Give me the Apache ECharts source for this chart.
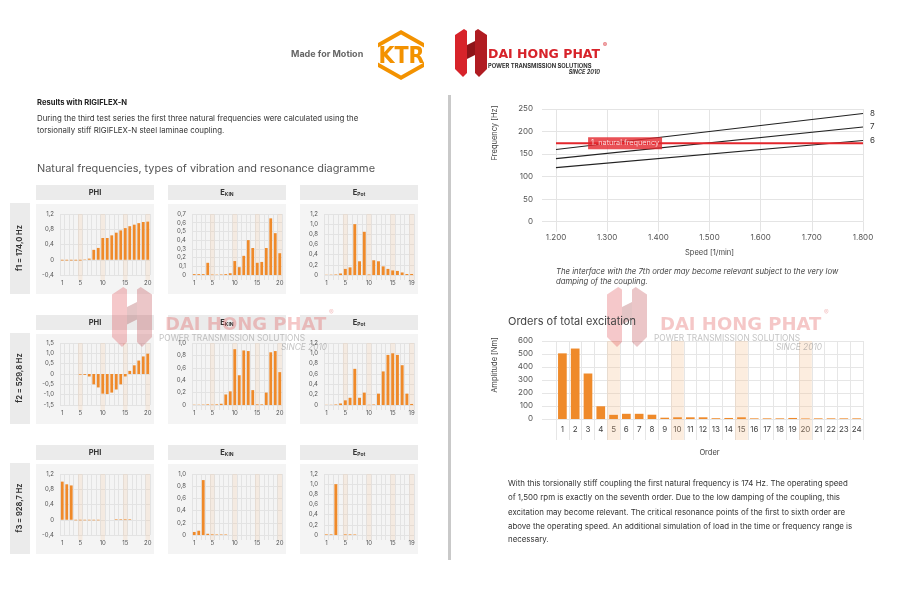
<!DOCTYPE html>
<html><head><meta charset="utf-8">
<style>html,body{margin:0;padding:0;background:#fff}#c{width:900px;height:603px}</style>
<script src="https://cdn.jsdelivr.net/npm/echarts@6.0.0/dist/echarts.min.js"></script>
</head><body><div id="c"></div>
<script>
// ---------- DATA ----------
const cats20 = ['1','2','3','4','5','6','7','8','9','10','11','12','13','14','15','16','17','18','19','20'];
const cats19 = ['1','2','3','4','5','6','7','8','9','10','11','12','13','14','15','16','17','18','19'];
const bands20 = ['5','10','15','20'];
const bands19 = ['5','10','15','19'];

const phiF1  = [-0.02,-0.02,-0.02,-0.02,-0.02,0.01,0.03,0.26,0.31,0.57,0.57,0.64,0.71,0.77,0.83,0.88,0.92,0.96,0.99,1.0];
const ekinF1 = [0.01,0.01,0.01,0.14,0.005,0.004,0.006,0.01,0.02,0.16,0.09,0.22,0.40,0.31,0.14,0.15,0.31,0.65,0.48,0.25];
const epotF1 = [0.004,0.006,0.01,0.03,0.12,0.15,1.0,0.27,0.85,0.01,0.29,0.27,0.17,0.12,0.09,0.08,0.05,0.02,0.02];

const phiF2  = [null,null,null,null,-0.03,-0.04,-0.12,-0.5,-0.65,-0.95,-0.97,-0.9,-0.75,-0.5,-0.12,0.15,0.42,0.65,0.85,0.98];
const ekinF2 = [0.004,0.004,0.006,0.01,0.006,0.01,0.02,0.17,0.22,0.90,0.48,0.88,0.87,0.24,0.01,0.01,0.20,0.85,0.87,0.53];
const epotF2 = [0.003,0.004,0.01,0.03,0.09,0.14,0.70,0.14,0.24,0.004,0.01,0.22,0.65,0.97,1.0,0.97,0.77,0.22,0.02];

const phiF3  = [1.0,0.93,0.9,-0.015,-0.015,-0.015,-0.015,-0.015,-0.015,null,null,null,0.015,0.015,0.015,0.015,null,null,null,null];
const ekinF3 = [0.05,0.07,0.90,0.02,0.01,0.008,0.008,0.008,null,null,null,null,null,null,null,null,null,null,null,null];
const epotF3 = [0.012,0.012,1.0,null,0.012,0.012,0.01,null,null,null,null,null,null,null,null,null,null,null,null];

const freqLabels = ['f1 = 174,0 Hz','f2 = 529,8 Hz','f3 = 928,7 Hz'];

const speeds = [1200, 1800];
const order6 = [120, 180];
const order7 = [140, 210];
const order8 = [160, 240];
const naturalFreq = [174, 174];
const naturalFreqLabel = '1. natural frequency';
const naturalFreqLabelSpeed = 1335;

const orderCats = ['1','2','3','4','5','6','7','8','9','10','11','12','13','14','15','16','17','18','19','20','21','22','23','24'];
const amplitude = [505,542,350,98,32,40,40,33,10,13,13,13,6,8,13,5,5,5,8,4,5,5,5,5];
const orderBands = ['5','10','15','20'];

// ---------- LAYOUT / STYLE ----------
const FONT = 'Inter, "Noto Sans", sans-serif';
const ORANGE = '#ef8a2a';
const BAND_SMALL = 'rgba(245, 190, 140, 0.18)';
const BAND = 'rgba(245, 190, 140, 0.28)';
const GRID_C = '#e3e3e3';

const grid = [], xAxis = [], yAxis = [], series = [], graphic = [];

function T(x, y, text, o) {
  o = o || {};
  const st = {text: text, fontSize: o.size || 8, fontFamily: o.family || FONT,
    fontWeight: o.weight || 'normal', fontStyle: o.italic ? 'italic' : 'normal',
    fill: o.color || '#333', align: o.align || 'left', textAlign: o.align || 'left',
    verticalAlign: o.va || 'middle', textVerticalAlign: o.va || 'middle'};
  if (o.rich) st.rich = o.rich;
  if (o.opacity != null) st.opacity = o.opacity;
  return {type: 'text', x: x, y: y, rotation: o.rot || 0, silent: true, z: o.z || 10, style: st};
}
function R(x, y, w, h, fill, z) {
  return {type: 'rect', shape: {x: x, y: y, width: w, height: h}, style: {fill: fill}, silent: true, z: z == null ? 0 : z};
}
function P(points, fill, z, opacity) {
  const st = {fill: fill};
  if (opacity != null) st.opacity = opacity;
  return {type: 'polygon', shape: {points: points}, style: st, silent: true, z: z == null ? 5 : z};
}
const fmtComma = v => (Math.abs(v) < 1e-9 ? '0' : v.toFixed(1).replace('.', ','));

function bandSeries(ax, data, yTop, yBot, extra, fill) {
  return {type: 'custom', xAxisIndex: ax, yAxisIndex: ax, silent: true, clip: false, z: 1,
    data: data.map(c => [c, yTop]),
    renderItem: function (params, api) {
      const c = api.value(0);
      const top = api.coord([c, yTop]);
      const bot = api.coord([c, yBot]);
      const w = api.size([1, 0])[0];
      return {type: 'rect', shape: {x: top[0] - w / 2, y: top[1], width: w, height: bot[1] - top[1] + extra},
        style: {fill: fill}};
    }};
}

// ---------- SMALL PANELS ----------
const colX = [36, 168, 300];
const rowTop = [185, 315, 445];
const plotTop = [214, 343, 474];
const plotBot = [275, 405, 535];

const panels = [
  [ {t:'PHI', cats:cats20, d:phiF1, min:-0.4, max:1.2, iv:0.4, b:bands20},
    {t:'KIN', cats:cats20, d:ekinF1, min:0, max:0.7, iv:0.1, b:bands20},
    {t:'Pot', cats:cats19, d:epotF1, min:0, max:1.2, iv:0.2, b:bands19} ],
  [ {t:'PHI', cats:cats20, d:phiF2, min:-1.5, max:1.5, iv:0.5, b:bands20},
    {t:'KIN', cats:cats20, d:ekinF2, min:0, max:1.0, iv:0.2, b:bands20},
    {t:'Pot', cats:cats19, d:epotF2, min:0, max:1.2, iv:0.2, b:bands19} ],
  [ {t:'PHI', cats:cats20, d:phiF3, min:-0.4, max:1.2, iv:0.4, b:bands20},
    {t:'KIN', cats:cats20, d:ekinF3, min:0, max:1.0, iv:0.2, b:bands20},
    {t:'Pot', cats:cats19, d:epotF3, min:0, max:1.2, iv:0.2, b:bands19} ]
];

let gi = 0;
panels.forEach((row, r) => {
  graphic.push(R(10, rowTop[r] + 18, 20, 91, '#ebebeb'));
  graphic.push(T(20, rowTop[r] + 63, freqLabels[r], {rot: Math.PI / 2, align: 'center', weight: 'bold', size: 7.5, color: '#333'}));
  row.forEach((p, c) => {
    const x0 = colX[c];
    graphic.push(R(x0, rowTop[r], 118, 15, '#ebebeb'));
    if (p.t === 'PHI') {
      graphic.push(T(x0 + 59, rowTop[r] + 8, 'PHI', {align: 'center', weight: 'bold', size: 7.5, color: '#333'}));
    } else {
      graphic.push(T(x0 + 59, rowTop[r] + 8, '{e|E}{s|' + p.t + '}', {align: 'center', size: 7.5,
        rich: {e: {fontSize: 7.5, fontWeight: 'bold', fill: '#333', fontFamily: FONT},
               s: {fontSize: 5, fontWeight: 'bold', fill: '#333', fontFamily: FONT, padding: [3, 0, 0, 0]}}}));
    }
    graphic.push(R(x0, rowTop[r] + 19, 118, 90, '#f4f4f4'));
    const n = p.cats.length;
    grid.push({left: x0 + 24, top: plotTop[r], width: 90, height: plotBot[r] - plotTop[r],
      show: true, backgroundColor: '#fbfbfb', borderWidth: 0});
    xAxis.push({gridIndex: gi, type: 'category', data: p.cats,
      axisLine: {show: false},
      axisTick: {show: true, interval: 0, length: 5, lineStyle: {color: GRID_C}},
      splitLine: {show: true, interval: 0, lineStyle: {color: GRID_C, width: 1}},
      axisLabel: {interval: 0, fontSize: 6, color: '#555', margin: 5, fontFamily: FONT,
        formatter: (v, i) => (i === 0 || (i + 1) % 5 === 0 || i === n - 1) ? v : ''}});
    yAxis.push({gridIndex: gi, type: 'value', min: p.min, max: p.max, interval: p.iv,
      axisLine: {show: false}, axisTick: {show: false},
      splitLine: {show: true, lineStyle: {color: GRID_C, width: 1}},
      axisLabel: {fontSize: 6, color: '#555', margin: 6, fontFamily: FONT, formatter: fmtComma}});
    series.push(bandSeries(gi, p.b, p.max, p.min, 5, BAND_SMALL));
    series.push({type: 'bar', xAxisIndex: gi, yAxisIndex: gi, data: p.d, barWidth: '62%',
      itemStyle: {color: ORANGE}, z: 3, silent: true});
    gi++;
  });
});

// ---------- FREQUENCY CHART ----------
const gF = gi;
grid.push({left: 556, right: 37, top: 109, bottom: 381.3});
xAxis.push({gridIndex: gF, type: 'value', min: 1200, max: 1800, interval: 100,
  axisLine: {show: false},
  axisTick: {show: true, length: 10, lineStyle: {color: '#e4e4e4'}},
  splitLine: {show: true, lineStyle: {color: '#e4e4e4'}},
  axisLabel: {fontSize: 8, color: '#555', margin: 12, fontFamily: FONT, formatter: v => (v / 1000).toFixed(3)},
  name: 'Speed [1/min]', nameLocation: 'middle', nameGap: 27,
  nameTextStyle: {fontSize: 7.5, color: '#444', fontFamily: FONT}});
yAxis.push({gridIndex: gF, type: 'value', min: 0, max: 250, interval: 50,
  axisLabel: {show: false}, axisLine: {show: false}, axisTick: {show: false}, splitLine: {show: false}});
gi++;
const gFy = gi;
grid.push({left: 542, right: 37, top: 109, bottom: 381.3});
xAxis.push({gridIndex: gFy, type: 'value', min: 0, max: 1, show: false});
yAxis.push({gridIndex: gFy, type: 'value', min: 0, max: 250, interval: 50,
  axisLine: {show: false}, axisTick: {show: false},
  splitLine: {show: true, lineStyle: {color: '#e4e4e4'}},
  axisLabel: {fontSize: 8, color: '#555', margin: 9, fontFamily: FONT}});
gi++;

function orderLine(name, vals) {
  return {type: 'line', name: name, xAxisIndex: gF, yAxisIndex: gF, symbol: 'none', silent: true,
    data: speeds.map((s, i) => [s, vals[i]]), lineStyle: {color: '#222', width: 1.1}, z: 4,
    endLabel: {show: true, formatter: name, fontSize: 8, color: '#333', distance: 7, fontFamily: FONT}};
}
series.push(orderLine('6', order6), orderLine('7', order7), orderLine('8', order8));
series.push({type: 'line', xAxisIndex: gF, yAxisIndex: gF, symbol: 'none', silent: true,
  data: speeds.map((s, i) => [s, naturalFreq[i]]), lineStyle: {color: '#e3262c', width: 2}, z: 5});
series.push({type: 'scatter', xAxisIndex: gF, yAxisIndex: gF, symbolSize: 0, silent: true, z: 6,
  data: [[naturalFreqLabelSpeed, naturalFreq[0]]],
  label: {show: true, position: 'inside', formatter: naturalFreqLabel, backgroundColor: '#e3262c',
    color: '#fff', fontSize: 7.3, padding: [3, 3, 2, 3], fontFamily: FONT}});

// ---------- ORDERS CHART ----------
const gO = gi;
grid.push({left: 556, right: 37, top: 341, bottom: 184});
xAxis.push({gridIndex: gO, type: 'category', data: orderCats,
  axisLine: {show: false},
  axisTick: {show: true, interval: 0, length: 21, lineStyle: {color: '#e6e6e6'}},
  splitLine: {show: true, interval: 0, lineStyle: {color: '#e6e6e6'}},
  axisLabel: {interval: 0, fontSize: 8, color: '#444', margin: 7, fontFamily: FONT},
  name: 'Order', nameLocation: 'middle', nameGap: 30,
  nameTextStyle: {fontSize: 7.5, color: '#444', fontFamily: FONT}});
yAxis.push({gridIndex: gO, type: 'value', min: 0, max: 600, interval: 100,
  axisLabel: {show: false}, axisLine: {show: false}, axisTick: {show: false}, splitLine: {show: false}});
gi++;
const gOy = gi;
grid.push({left: 542, right: 37, top: 341, bottom: 184});
xAxis.push({gridIndex: gOy, type: 'value', min: 0, max: 1, show: false});
yAxis.push({gridIndex: gOy, type: 'value', min: 0, max: 600, interval: 100,
  axisLine: {show: false}, axisTick: {show: false},
  splitLine: {show: true, lineStyle: {color: '#e6e6e6'}},
  axisLabel: {fontSize: 8, color: '#555', margin: 9, fontFamily: FONT}});
gi++;
series.push(bandSeries(gO, orderBands, 600, 0, 21, BAND));
series.push({type: 'bar', xAxisIndex: gO, yAxisIndex: gO, data: amplitude, barWidth: '68%',
  itemStyle: {color: ORANGE}, z: 3, silent: true});

// ---------- TEXTS / DECOR ----------
graphic.push(T(495, 133, 'Frequency [Hz]', {rot: Math.PI / 2, align: 'center', size: 7.5, color: '#444'}));
graphic.push(T(495, 365, 'Amplitude [Nm]', {rot: Math.PI / 2, align: 'center', size: 7.5, color: '#444'}));

graphic.push(T(37, 103, 'Results with RIGIFLEX-N', {size: 7.6, weight: 'bold', color: '#222'}));
graphic.push(T(37, 119, 'During the third test series the first three natural frequencies were calculated using the', {size: 7.85, color: '#333'}));
graphic.push(T(37, 131, 'torsionally stiff RIGIFLEX-N steel laminae coupling.', {size: 7.85, color: '#333'}));
graphic.push(T(37, 169, 'Natural frequencies, types of vibration and resonance diagramme', {size: 10.9, color: '#555'}));

graphic.push(T(556, 272, 'The interface with the 7th order may become relevant subject to the very low', {size: 7.75, italic: true, color: '#444'}));
graphic.push(T(556, 282, 'damping of the coupling.', {size: 7.75, italic: true, color: '#444'}));

graphic.push(T(508, 322, 'Orders of total excitation', {size: 11, color: '#444'}));

const para = [
  'With this torsionally stiff coupling the first natural frequency is 174 Hz. The operating speed',
  'of 1,500 rpm is exactly on the seventh order. Due to the low damping of the coupling, this',
  'excitation may become relevant. The critical resonance points of the first to sixth order are',
  'above the operating speed. An additional simulation of load in the time or frequency range is',
  'necessary.'
];
const paraY = [484, 498, 513, 527, 540];
para.forEach((l, i) => graphic.push(T(508, paraY[i], l, {size: 7.9, color: '#333'})));

// divider
graphic.push(R(448, 95, 3, 465, '#c9c9c9'));

// header: Made for Motion + KTR
graphic.push(T(291, 54, 'Made for Motion', {size: 9, weight: 'bold', color: '#666'}));
const KTR = '#f39200';
graphic.push(P([[378, 43], [401, 30], [424, 43], [424, 47.5], [401, 34.5], [378, 47.5]], KTR));
graphic.push(P([[378, 62.5], [401, 75.5], [424, 62.5], [424, 67], [401, 80], [378, 67]], KTR));
graphic.push(T(401.5, 57, 'KTR', {size: 23, weight: 'bold', color: KTR, align: 'center', family: '"Liberation Sans Narrow","DejaVu Sans Condensed","Liberation Sans",sans-serif'}));

// header: DAI HONG PHAT logo
function dhpIcon(x, y, s, op) {
  const pts1 = [[0, 6], [9, 0], [12, 2], [12, 44], [8, 48], [0, 40]];
  const pts2 = [[20, 2], [23, 0], [32, 6], [32, 40], [24, 48], [20, 44]];
  const pts3 = [[12, 16], [20, 12], [20, 26], [12, 30]];
  const m = pts => pts.map(p => [x + p[0] * s, y + p[1] * s]);
  return [P(m(pts1), '#d7232a', 5, op), P(m(pts2), '#b01c22', 5, op), P(m(pts3), '#8e1419', 5, op)];
}
dhpIcon(455, 29, 1, 1).forEach(e => graphic.push(e));
graphic.push(T(488, 55, 'DAI HONG PHAT', {size: 12.5, weight: 'bold', color: '#d7232a', family: '"DejaVu Sans","Liberation Sans",sans-serif'}));
graphic.push(T(603, 45, '®', {size: 6, color: '#d7232a'}));
graphic.push(T(488, 66, 'POWER TRANSMISSION SOLUTIONS', {size: 5.8, weight: 'bold', color: '#333'}));
graphic.push(T(600, 72.5, 'SINCE 2010', {size: 5.5, weight: 'bold', italic: true, color: '#333', align: 'right'}));

// watermarks
function watermark(dx) {
  dhpIcon(112 + dx, 287, 1.25, 0.25).forEach(e => graphic.push(e));
  graphic.push(T(165 + dx, 325, 'DAI HONG PHAT', {size: 18, weight: 'bold', color: '#e05555', opacity: 0.33, z: 20, family: '"DejaVu Sans","Liberation Sans",sans-serif'}));
  graphic.push(T(329 + dx, 313, '®', {size: 7, color: '#e05555', opacity: 0.4, z: 20}));
  graphic.push(T(159 + dx, 339, 'POWER TRANSMISSION SOLUTIONS', {size: 8.3, color: '#777', opacity: 0.45, z: 20}));
  graphic.push(T(327 + dx, 348, 'SINCE 2010', {size: 8.3, italic: true, color: '#777', opacity: 0.45, z: 20, align: 'right'}));
}
watermark(0);
watermark(495);

const option = {
  backgroundColor: '#fff',
  animation: false,
  textStyle: {fontFamily: FONT},
  grid: grid, xAxis: xAxis, yAxis: yAxis, series: series, graphic: graphic
};
const chart = echarts.init(document.getElementById('c'), null, {renderer: 'canvas'});
chart.setOption(option);
</script>
</body></html>
